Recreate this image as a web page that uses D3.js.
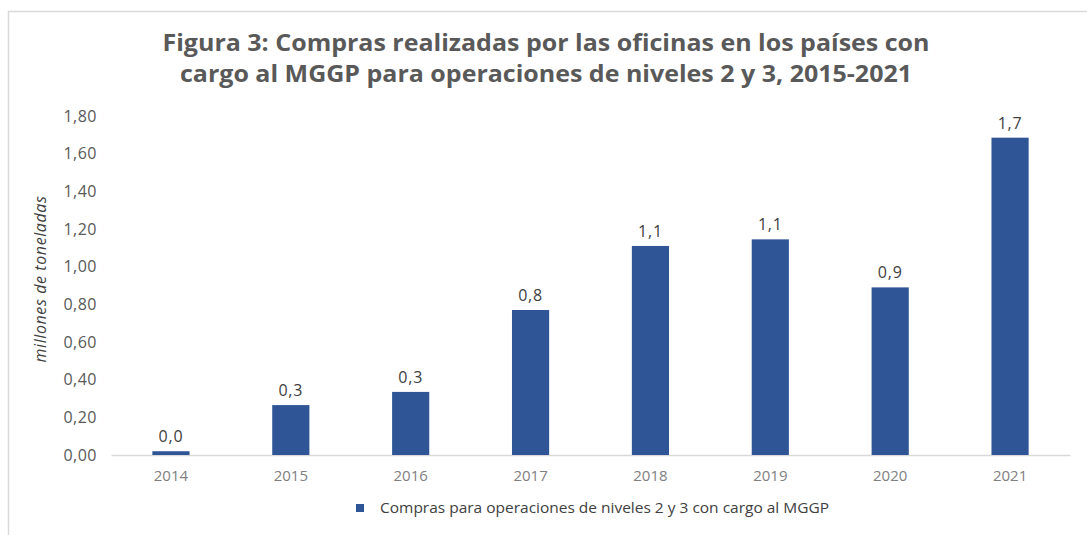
<!DOCTYPE html>
<html>
<head>
<meta charset="utf-8">
<script src="https://cdn.jsdelivr.net/npm/d3@7"></script>
<style>
  body { margin: 0; background: #fff; }
  text { font-family: "Open Sans", sans-serif; }
</style>
</head>
<body>
<div id="chart-area"></div>
<script>
// Data
var years = ["2014", "2015", "2016", "2017", "2018", "2019", "2020", "2021"];
var values = [0.02, 0.265, 0.335, 0.77, 1.11, 1.145, 0.89, 1.685];
var valueLabels = ["0,0", "0,3", "0,3", "0,8", "1,1", "1,1", "0,9", "1,7"];
var yTicks = [0, 0.2, 0.4, 0.6, 0.8, 1.0, 1.2, 1.4, 1.6, 1.8];
var titleLines = ["Figura 3: Compras realizadas por las oficinas en los países con",
                  "cargo al MGGP para operaciones de niveles 2 y 3, 2015-2021"];
var yTitle = "millones de toneladas";
var legendLabel = "Compras para operaciones de niveles 2 y 3 con cargo al MGGP";

var W = 1087, H = 535;
var margin = { left: 111, right: 17, top: 116, bottom: 80 },
    width = W - margin.left - margin.right,
    height = 455 - margin.top;

var svg = d3.select("#chart-area").append("svg")
    .attr("width", W)
    .attr("height", H);

// outer frame (only top + left visible)
svg.append("rect")
    .attr("x", 8.5).attr("y", 11.5)
    .attr("width", W + 20).attr("height", H + 20)
    .attr("fill", "none")
    .attr("stroke", "#d9d9d9")
    .attr("stroke-width", 1.5);

// title
svg.append("g").selectAll("text")
    .data(titleLines)
    .enter().append("text")
    .attr("x", 546)
    .attr("y", function(d, i) { return 51 + i * 31; })
    .attr("text-anchor", "middle")
    .attr("font-size", "24px")
    .attr("font-weight", "bold")
    .attr("fill", "#595959")
    .attr("textLength", function(d, i) { return i == 0 ? 767 : 732; })
    .attr("lengthAdjust", "spacingAndGlyphs")
    .text(function(d) { return d; });

var g = svg.append("g")
    .attr("transform", "translate(" + margin.left + "," + margin.top + ")");

// Scales
var x = d3.scaleBand().domain(years).range([0, width]).paddingInner(0.69).paddingOuter(0.345);
var y = d3.scaleLinear().domain([0, 1.8]).range([height, 0]);

// Y axis
var yAxisCall = d3.axisLeft(y)
    .tickValues(yTicks)
    .tickSize(0)
    .tickPadding(14)
    .tickFormat(function(d) { return d3.format(".2f")(d).replace(".", ","); });
var yAxis = g.append("g").call(yAxisCall);
yAxis.select(".domain").remove();
yAxis.selectAll("text")
    .attr("font-family", "'Open Sans', sans-serif")
    .attr("font-size", "16px")
    .attr("letter-spacing", "0.5px")
    .attr("fill", "#595959");

// X axis
var xAxisCall = d3.axisBottom(x).tickSize(0).tickPadding(15);
var xAxis = g.append("g")
    .attr("transform", "translate(0," + height + ")")
    .call(xAxisCall);
xAxis.select(".domain").attr("stroke", "#d9d9d9").attr("stroke-width", 1.5);
xAxis.selectAll("text")
    .attr("font-family", "'Open Sans', sans-serif")
    .attr("font-size", "15px")
    .attr("fill", "#808080");

// Y axis label
g.append("text")
    .attr("transform", "rotate(-90)")
    .attr("x", -(279 - margin.top))
    .attr("y", -65)
    .attr("text-anchor", "middle")
    .attr("font-size", "16px")
    .attr("letter-spacing", "0.6px")
    .attr("font-style", "italic")
    .attr("fill", "#404040")
    .text(yTitle);

// Bars
g.selectAll(".bar")
    .data(values)
    .enter().append("rect")
    .attr("class", "bar")
    .attr("x", function(d, i) { return x(years[i]); })
    .attr("y", function(d) { return y(d); })
    .attr("width", x.bandwidth())
    .attr("height", function(d) { return height - y(d); })
    .attr("fill", "#2f5597");

// Value labels
g.selectAll(".vlabel")
    .data(values)
    .enter().append("text")
    .attr("class", "vlabel")
    .attr("x", function(d, i) { return x(years[i]) + x.bandwidth() / 2; })
    .attr("y", function(d) { return y(d) - 9; })
    .attr("text-anchor", "middle")
    .attr("font-size", "16px")
    .attr("letter-spacing", "0.8px")
    .attr("fill", "#404040")
    .text(function(d, i) { return valueLabels[i]; });

// Legend
var legend = svg.append("g").attr("transform", "translate(356,504)");
legend.append("rect")
    .attr("width", 8).attr("height", 8)
    .attr("fill", "#2f5597");
legend.append("text")
    .attr("x", 24).attr("y", 8.5)
    .attr("font-size", "15px")
    .attr("fill", "#404040")
    .attr("textLength", 449)
    .attr("lengthAdjust", "spacingAndGlyphs")
    .text(legendLabel);
</script>
</body>
</html>
